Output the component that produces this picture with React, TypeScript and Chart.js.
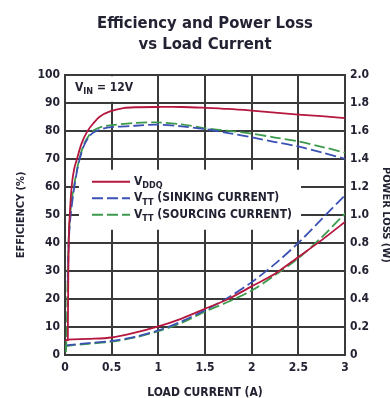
import React, { useEffect, useRef } from 'react';
import { Chart, registerables } from 'chart.js';
Chart.register(...registerables);

const FONT = "'DejaVu Sans Condensed', sans-serif";
const TICK_FONT = "'DejaVu Sans Condensed', sans-serif";

// Efficiency (%), left axis
const effLoadVddq = [0.03, 0.036, 0.04, 0.046, 0.071, 0.096, 0.125, 0.179, 0.239, 0.304, 0.375, 0.482, 0.625, 0.75, 1.0, 1.25, 1.5, 1.75, 2.0, 2.25, 2.5, 2.75, 3.0];
const effVddq = [5, 30, 40, 47, 60, 66, 69.6, 75.6, 79.8, 82.7, 85.1, 86.9, 88.1, 88.4, 88.5, 88.5, 88.2, 87.8, 87.2, 86.5, 85.8, 85.2, 84.5];

const effLoadSink = [0.03, 0.04, 0.055, 0.075, 0.1, 0.125, 0.15, 0.2, 0.25, 0.3, 0.4, 0.5, 0.75, 1.0, 1.25, 1.5, 1.75, 2.0, 2.25, 2.5, 2.75, 3.0];
const effSink = [26, 40, 48, 54, 60, 65, 69, 74.5, 77.5, 79.3, 80.7, 81.3, 81.8, 82.2, 81.6, 80.6, 79.2, 77.7, 76, 74.4, 72.3, 70];

const effLoadSource = [0.01, 0.02, 0.03, 0.04, 0.055, 0.075, 0.1, 0.125, 0.15, 0.2, 0.25, 0.3, 0.4, 0.5, 0.75, 1.0, 1.25, 1.5, 1.75, 2.0, 2.25, 2.5, 2.75, 3.0];
const effSource = [1, 10, 30, 42, 50, 56, 61, 65.5, 69.5, 75, 78, 80, 81.5, 82, 82.8, 83, 82.3, 80.9, 80, 79, 77.6, 76.2, 74.3, 72.2];

// Power loss (W), right axis
const lossLoad = [0, 0.03, 0.25, 0.5, 0.75, 1.0, 1.25, 1.5, 1.75, 2.0, 2.25, 2.5, 2.75, 3.0];
const lossVddq = [0.1, 0.11, 0.115, 0.125, 0.16, 0.205, 0.26, 0.33, 0.4, 0.49, 0.58, 0.7, 0.82, 0.95];
const lossSink = [0.065, 0.07, 0.085, 0.1, 0.13, 0.175, 0.24, 0.32, 0.41, 0.52, 0.65, 0.8, 0.97, 1.14];
const lossSource = [0.055, 0.065, 0.08, 0.095, 0.125, 0.17, 0.23, 0.31, 0.38, 0.46, 0.57, 0.69, 0.84, 1.01];

const RED = '#b5173f';
const BLUE = '#3b52b4';
const GREEN = '#3c9a4c';
const GRID = '#3a3a3a';
const TEXT = '#222233';

const pts = (xs: number[], ys: number[]) => xs.map((x, i) => ({ x, y: ys[i] }));

function drawSubText(ctx: CanvasRenderingContext2D, x: number, y: number, main: string, sub: string, rest: string) {
  ctx.font = `bold 12px ${TICK_FONT}`;
  ctx.textBaseline = 'middle';
  ctx.textAlign = 'left';
  ctx.fillText(main, x, y);
  let cx = x + ctx.measureText(main).width;
  ctx.font = `bold 9px ${TICK_FONT}`;
  ctx.fillText(sub, cx, y + 4);
  cx += ctx.measureText(sub).width;
  ctx.font = `bold 12px ${TICK_FONT}`;
  ctx.fillText(rest, cx, y);
}

const overlay = {
  id: 'overlay',
  beforeDatasetsDraw(chart: any) {
    const { ctx, chartArea: a } = chart;
    ctx.save();
    ctx.fillStyle = '#ffffff';
    ctx.fillRect(a.left + 14, a.top + 95, 222, 60);
    ctx.fillRect(a.left + 1.5, a.top + 1.5, 84, 25.5);
    ctx.restore();
  },
  afterDatasetsDraw(chart: any) {
    const { ctx, chartArea: a } = chart;
    ctx.save();
    ctx.fillStyle = TEXT;
    drawSubText(ctx, a.left + 10, a.top + 13, 'V', 'IN', ' = 12V');
    const rows = [
      { color: RED, dash: [] as number[], sub: 'DDQ', rest: '' },
      { color: BLUE, dash: [11, 4], sub: 'TT', rest: ' (SINKING CURRENT)' },
      { color: GREEN, dash: [11, 4], sub: 'TT', rest: ' (SOURCING CURRENT)' },
    ];
    rows.forEach((r, i) => {
      const y = a.top + 107 + i * 16.5;
      ctx.strokeStyle = r.color;
      ctx.lineWidth = 1.8;
      ctx.setLineDash(r.dash);
      ctx.beginPath();
      ctx.moveTo(a.left + 27, y);
      ctx.lineTo(a.left + 65, y);
      ctx.stroke();
      ctx.setLineDash([]);
      ctx.fillStyle = TEXT;
      drawSubText(ctx, a.left + 69, y, 'V', r.sub, r.rest);
    });
    ctx.restore();
  },
};

export default function App() {
  const ref = useRef<HTMLCanvasElement>(null);
  useEffect(() => {
    document.body.style.margin = '0';
    const canvas = ref.current!;
    const line = (label: string, data: any, color: string, axis: string, dash: number[]) => ({
      label, data, borderColor: color, backgroundColor: color, yAxisID: axis,
      borderWidth: 1.8, pointRadius: 0, tension: 0.3, borderDash: dash, fill: false,
    });
    const chart = new Chart(canvas, {
      type: 'line',
      data: {
        datasets: [
          line('VDDQ efficiency', pts(effLoadVddq, effVddq), RED, 'y', []),
          line('VTT sinking efficiency', pts(effLoadSink, effSink), BLUE, 'y', [11, 4]),
          line('VTT sourcing efficiency', pts(effLoadSource, effSource), GREEN, 'y', [11, 4]),
          line('VDDQ power loss', pts(lossLoad, lossVddq), RED, 'y1', []),
          line('VTT sinking power loss', pts(lossLoad, lossSink), BLUE, 'y1', [11, 4]),
          line('VTT sourcing power loss', pts(lossLoad, lossSource), GREEN, 'y1', [11, 4]),
        ],
      },
      options: {
        responsive: false,
        devicePixelRatio: 1,
        animation: false,
        layout: { padding: 0 },
        plugins: {
          legend: { display: false },
          tooltip: { enabled: false },
          title: {
            display: true,
            fullSize: false,
            text: ['Efficiency and Power Loss', 'vs Load Current'],
            color: TEXT,
            font: { family: FONT, size: 16.5, weight: 'bold', lineHeight: 1.25 },
            padding: { top: 13.5, bottom: 20 },
          },
        },
        scales: {
          x: {
            type: 'linear', min: 0, max: 3,
            afterFit: (s: any) => { s.height = 43; },
            ticks: {
              stepSize: 0.5, padding: 6, color: TEXT,
              font: { family: TICK_FONT, size: 12, weight: 'bold' },
              callback: (v: any) => String(v),
            },
            grid: { color: GRID, lineWidth: 2, drawTicks: false },
            border: { color: GRID, width: 2 },
            title: {
              display: true, text: 'LOAD CURRENT (A)', color: TEXT,
              font: { family: TICK_FONT, size: 12, weight: 'bold' },
              padding: { top: 0, bottom: -2 },
            },
          },
          y: {
            position: 'left', min: 0, max: 100,
            afterFit: (s: any) => { s.width = 65; },
            ticks: {
              stepSize: 10, padding: 5, color: TEXT,
              font: { family: TICK_FONT, size: 12, weight: 'bold' },
            },
            grid: { color: GRID, lineWidth: 2, drawTicks: false },
            border: { color: GRID, width: 2 },
            title: {
              display: true, text: 'EFFICIENCY (%)', color: TEXT,
              font: { family: TICK_FONT, size: 11, weight: 'bold' },
              padding: { top: 15, bottom: 0 },
            },
          },
          y1: {
            position: 'right', min: 0, max: 2,
            afterFit: (s: any) => { s.width = 45; },
            ticks: {
              stepSize: 0.2, padding: 5, color: TEXT,
              font: { family: TICK_FONT, size: 12, weight: 'bold' },
              callback: (v: any) => (v === 0 ? '0' : Number(v).toFixed(1)),
            },
            grid: { display: false, drawTicks: false },
            border: { color: GRID, width: 2 },
            title: {
              display: true, text: 'POWER LOSS (W)', color: TEXT,
              font: { family: TICK_FONT, size: 11, weight: 'bold' },
              padding: { top: -2, bottom: 0 },
            },
          },
        },
      },
      plugins: [overlay],
    } as any);
    return () => chart.destroy();
  }, []);
  return <canvas ref={ref} width={390} height={398} style={{ display: 'block' }} />;
}
